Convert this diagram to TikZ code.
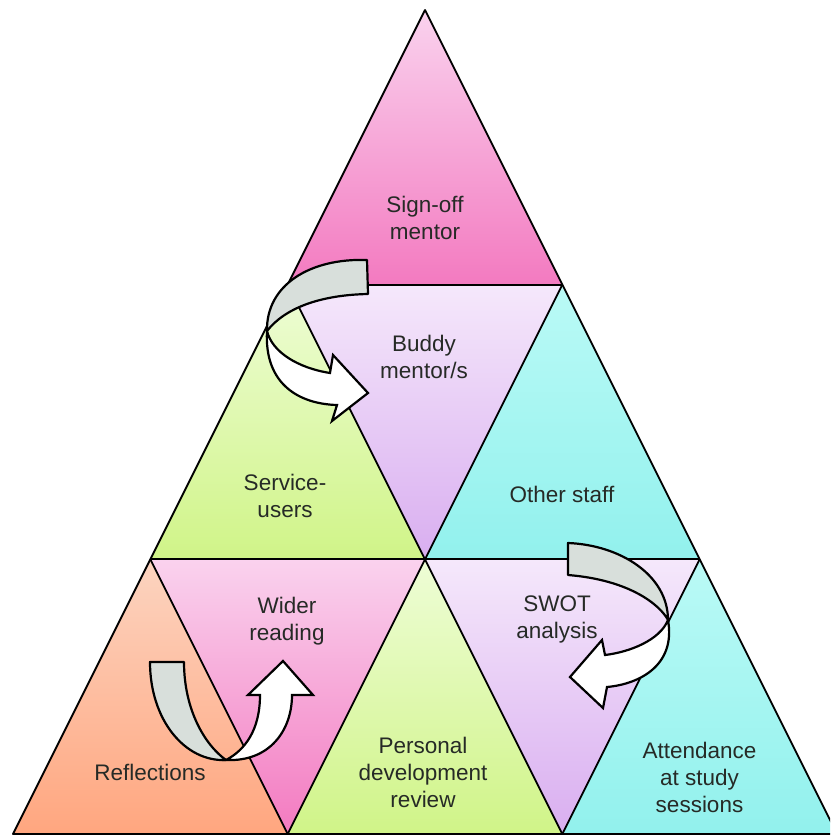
\documentclass[tikz,border=0pt]{standalone}
\usepackage{fontspec}
\setmainfont{Liberation Sans}
\definecolor{pinkT}{HTML}{FAD2EE}
\definecolor{pinkB}{HTML}{F37AC0}
\definecolor{lavT}{HTML}{F5E8FB}
\definecolor{lavB}{HTML}{D9AEF0}
\definecolor{greenT}{HTML}{EEFDD6}
\definecolor{greenB}{HTML}{D0F488}
\definecolor{cyanT}{HTML}{BAFAF6}
\definecolor{cyanB}{HTML}{92F1ED}
\definecolor{peachT}{HTML}{FCD4C0}
\definecolor{peachB}{HTML}{FFA67F}
\definecolor{bandgray}{HTML}{D8DFDB}
\definecolor{txt}{HTML}{262A26}
\begin{document}
\begin{tikzpicture}[x=1pt,y=-1pt,
  edge/.style={draw=black, line width=1.8pt, line join=round},
  lbl/.style={align=center, font=\fontsize{22.5}{27}\selectfont, text=txt, inner sep=0pt},
  backband/.style={fill=bandgray, draw=black, line width=2.2pt, line join=round},
  frontband/.style={fill=white, draw=black, line width=2.2pt, line join=miter}]
\useasboundingbox (0,0) rectangle (830,837);
\clip (0,0) rectangle (830,837);
% vertices
\coordinate (A) at (425,10);
\coordinate (L1) at (287.7,284.7);
\coordinate (R1) at (562.3,284.7);
\coordinate (L2) at (150.3,559.3);
\coordinate (M2) at (425,559.3);
\coordinate (R2) at (699.7,559.3);
\coordinate (B0) at (13,834);
\coordinate (B1) at (287.7,834);
\coordinate (B2) at (562.3,834);
\coordinate (B3) at (837,834);
% fills
\shade[top color=pinkT, bottom color=pinkB] (A) -- (L1) -- (R1) -- cycle;
\shade[top color=greenT, bottom color=greenB] (L1) -- (L2) -- (M2) -- cycle;
\shade[top color=lavT, bottom color=lavB] (L1) -- (R1) -- (M2) -- cycle;
\shade[top color=cyanT, bottom color=cyanB] (R1) -- (M2) -- (R2) -- cycle;
\shade[top color=peachT, bottom color=peachB] (L2) -- (B0) -- (B1) -- cycle;
\shade[top color=pinkT, bottom color=pinkB] (L2) -- (M2) -- (B1) -- cycle;
\shade[top color=greenT, bottom color=greenB] (M2) -- (B1) -- (B2) -- cycle;
\shade[top color=lavT, bottom color=lavB] (M2) -- (R2) -- (B2) -- cycle;
\shade[top color=cyanT, bottom color=cyanB] (R2) -- (B2) -- (B3) -- cycle;
% edges
\draw[edge] (A) -- (B0) -- (B3) -- cycle;
\draw[edge] (L1) -- (R1);
\draw[edge] (L2) -- (R2);
\draw[edge] (L1) -- (B2);
\draw[edge] (R1) -- (B1);
\draw[edge] (L2) -- (B1);
\draw[edge] (R2) -- (B2);
% labels
\node[lbl] (signoff) at (425,218) {Sign-off\\mentor};
\node[lbl] (buddy) at (424,357) {Buddy\\mentor/s};
\node[lbl] (service) at (285,496) {Service-\\users};
\node[lbl] (other) at (562,494) {Other staff};
\node[lbl] (wider) at (287,621) {Wider\\reading};
\node[lbl] (swot) at (557,619) {SWOT\\analysis};
\node[lbl] (refl) at (150,772) {Reflections};
\node[lbl] (pdr) at (423,772) {Personal\\development\\review};
\node[lbl] (attend) at (699.5,777) {Attendance\\at study\\sessions};
% arrow 1 (top)
\draw[backband] (367,260) .. controls (310,258) and (266,285) .. (267,331)
  .. controls (285,308) and (320,295) .. (368,294) -- cycle;
\draw[frontband] (267,331) .. controls (264,385) and (300,404) .. (337,405)
  -- (332,421) -- (368,393) -- (333,355) -- (330,373)
  .. controls (298,368) and (272,352) .. (267,331) -- cycle;
% arrow 2 (right)
\draw[backband] (568,543) .. controls (620,545) and (668,575) .. (668,620)
  .. controls (660,605) and (630,580) .. (568,575) -- cycle;
\draw[frontband] (668,620) .. controls (676,665) and (640,684) .. (607,687)
  -- (603,708) -- (570,677) -- (602,640) -- (605,655)
  .. controls (630,652) and (660,640) .. (668,620) -- cycle;
% arrow 3 (bottom left)
\draw[backband] (150,662) .. controls (150,720) and (185,762) .. (226,760)
  .. controls (205,745) and (184,710) .. (184,662) -- cycle;
\draw[frontband] (226,760) .. controls (270,762) and (292,730) .. (292,695)
  -- (313,695) -- (283,661) -- (248,695) -- (260,695)
  .. controls (260,730) and (245,750) .. (226,760) -- cycle;
\end{tikzpicture}
\end{document}
